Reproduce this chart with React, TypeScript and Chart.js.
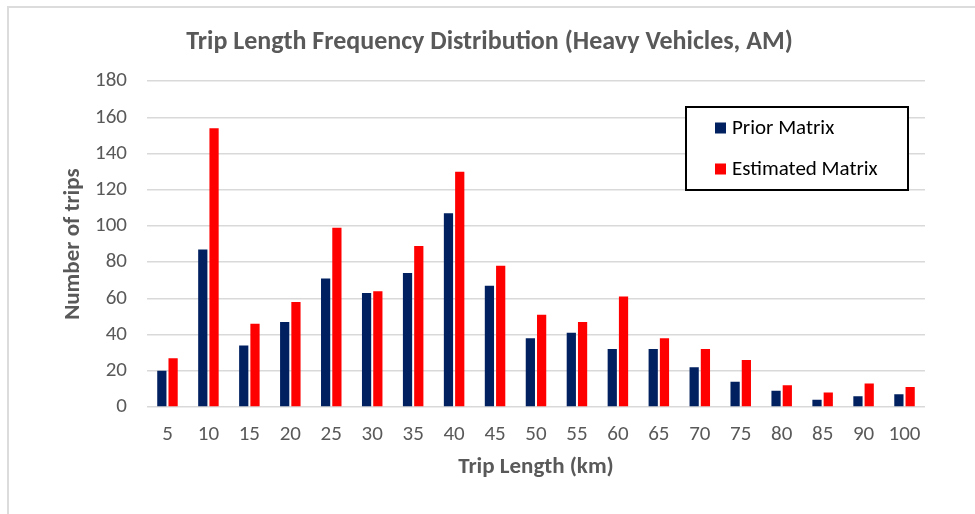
import React, { useEffect, useRef } from "react";
import { Chart, registerables } from "chart.js";

Chart.register(...registerables);

const categories = ["5", "10", "15", "20", "25", "30", "35", "40", "45", "50", "55", "60", "65", "70", "75", "80", "85", "90", "100"];
const priorMatrix = [20, 87, 34, 47, 71, 63, 74, 107, 67, 38, 41, 32, 32, 22, 14, 9, 4, 6, 7];
const estimatedMatrix = [27, 154, 46, 58, 99, 64, 89, 130, 78, 51, 47, 61, 38, 32, 26, 12, 8, 13, 11];
const yTicks = [0, 20, 40, 60, 80, 100, 120, 140, 160, 180];

const FONT = "Carlito, Calibri, 'Liberation Sans Narrow', 'Open Sans', sans-serif";

const legendBoxPlugin = {
  id: "legendBox",
  afterDraw(chart: any) {
    const ctx = chart.ctx;
    const x = 686, y = 107, w = 222, h = 83;
    ctx.save();
    ctx.fillStyle = "#ffffff";
    ctx.fillRect(x, y, w, h);
    ctx.strokeStyle = "#000000";
    ctx.lineWidth = 2;
    ctx.strokeRect(x, y, w, h);
    const items = chart.data.datasets.map((d: any) => ({ label: d.label, color: d.backgroundColor }));
    const rows = [128, 169];
    ctx.font = `21px ${FONT}`;
    ctx.textBaseline = "middle";
    ctx.textAlign = "left";
    items.forEach((it: any, i: number) => {
      ctx.fillStyle = it.color;
      ctx.fillRect(715, rows[i] - 5.5, 11, 11);
      ctx.fillStyle = "#000000";
      ctx.fillText(it.label, 732, rows[i] + 1);
    });
    ctx.restore();
  },
};

export default function App() {
  const ref = useRef<HTMLCanvasElement>(null);
  useEffect(() => {
    if (!ref.current) return;
    const chart = new Chart(ref.current, {
      type: "bar",
      data: {
        labels: categories,
        datasets: [
          { label: "Prior Matrix", data: priorMatrix, backgroundColor: "#002060", categoryPercentage: 0.55, barPercentage: 0.82 },
          { label: "Estimated Matrix", data: estimatedMatrix, backgroundColor: "#FF0000", categoryPercentage: 0.55, barPercentage: 0.82 },
        ],
      },
      options: {
        animation: false,
        responsive: false,
        maintainAspectRatio: false,
        layout: { padding: { left: 54, right: 50, top: 0, bottom: 0 } },
        plugins: {
          legend: { display: false },
          tooltip: { enabled: false },
          title: {
            display: true,
            text: "Trip Length Frequency Distribution (Heavy Vehicles, AM)",
            color: "#595959",
            font: { family: FONT, size: 26, weight: "bold" },
            padding: { top: 27, bottom: 23 },
          },
        },
        scales: {
          x: {
            grid: { display: false, drawTicks: false },
            border: { display: false },
            ticks: { color: "#595959", font: { family: FONT, size: 21 }, padding: 15, maxRotation: 0, autoSkip: false },
            title: {
              display: true,
              text: "Trip Length (km)",
              color: "#595959",
              font: { family: FONT, size: 23, weight: "bold" },
              padding: { top: 0, bottom: 33 },
            },
            afterFit: (s: any) => { s.height = 107; },
          },
          y: {
            min: 0,
            max: 180,
            afterBuildTicks: (s: any) => { s.ticks = yTicks.map((v) => ({ value: v })); },
            grid: { color: "#d9d9d9", lineWidth: 1.5, drawTicks: false },
            border: { display: false },
            ticks: { color: "#595959", font: { family: FONT, size: 21 }, padding: 20 },
            title: {
              display: true,
              text: "Number of trips",
              color: "#595959",
              font: { family: FONT, size: 23, weight: "bold" },
              padding: { top: 5, bottom: 0 },
            },
            afterFit: (s: any) => { s.width = 93; },
          },
        },
      },
      plugins: [legendBoxPlugin],
    });
    return () => chart.destroy();
  }, []);
  return (
    <div style={{ position: "fixed", left: 0, top: 0, width: 975, height: 514, background: "#fff" }}>
      <div style={{ position: "absolute", left: 7, top: 6, right: 0, bottom: 0, borderTop: "2px solid #dcdcdc", borderLeft: "2px solid #dcdcdc" }} />
      <canvas ref={ref} width={975} height={514} style={{ position: "absolute", left: 0, top: 0 }} />
    </div>
  );
}
